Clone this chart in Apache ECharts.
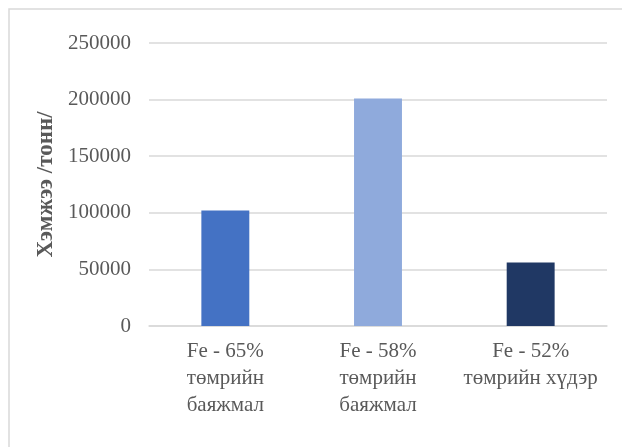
<!DOCTYPE html>
<html><head><meta charset="utf-8">
<script src="https://cdn.jsdelivr.net/npm/echarts@6/dist/echarts.min.js"></script>
<style>html,body{margin:0;padding:0;background:#fff}#c{width:622px;height:447px}</style>
</head><body><div id="c"></div>
<script>
const categories = ["Fe - 65%\nтөмрийн\nбаяжмал", "Fe - 58%\nтөмрийн\nбаяжмал", "Fe - 52%\nтөмрийн хүдэр"];
const values = [102000, 201000, 56000];
const yTicks = [0, 50000, 100000, 150000, 200000, 250000];
const yTitle = "Хэмжээ /тонн/";
const barColors = ["#4472C4", "#8FAADC", "#203864"];

const chart = echarts.init(document.getElementById('c'), null, {renderer: 'canvas'});
const font = "'Liberation Serif', 'Times New Roman', serif";
chart.setOption({
  animation: false,
  backgroundColor: '#ffffff',
  graphic: [{
    type: 'rect', shape: {x: 9, y: 9, width: 800, height: 600},
    style: {fill: 'none', stroke: '#D9D9D9', lineWidth: 1.5}, silent: true, z: -1
  }],
  grid: {left: 149, right: 15, top: 43, bottom: 121, containLabel: false},
  xAxis: {
    type: 'category', data: categories,
    axisLine: {lineStyle: {color: '#D9D9D9', width: 1.5}},
    axisTick: {show: false},
    axisLabel: {color: '#595959', fontFamily: font, fontSize: 21, lineHeight: 27, margin: 12, interval: 0}
  },
  yAxis: {
    type: 'value', min: yTicks[0], max: yTicks[yTicks.length - 1], interval: yTicks[1] - yTicks[0],
    name: yTitle, nameLocation: 'middle', nameGap: 90, nameRotate: 90,
    nameTextStyle: {color: '#595959', fontFamily: font, fontSize: 23, fontWeight: 'bold'},
    axisLine: {show: false}, axisTick: {show: false},
    axisLabel: {color: '#595959', fontFamily: font, fontSize: 21, margin: 18, formatter: v => String(v)},
    splitLine: {lineStyle: {color: '#D9D9D9', width: 1.5}}
  },
  series: [{
    type: 'bar', data: values, barWidth: '31.4%',
    itemStyle: {color: p => barColors[p.dataIndex]}
  }]
});
</script></body></html>
